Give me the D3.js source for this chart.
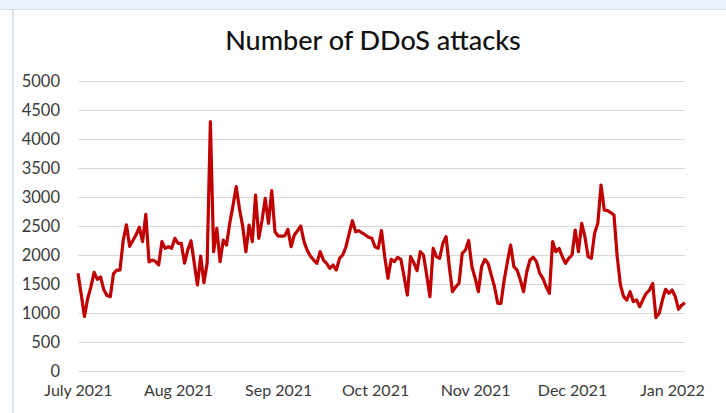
<!DOCTYPE html>
<html>
<head>
<meta charset="utf-8">
<script src="https://cdn.jsdelivr.net/npm/d3@7"></script>
<style>
  body { margin: 0; background: #fff; }
  svg { display: block; font-family: Lato, "Open Sans", sans-serif; }
  .axis text { fill: #3a3a3a; font-size: 16.5px; font-family: Lato, "Open Sans", sans-serif; }
  .x.axis text { font-size: 16px; }
  .grid line { stroke: #d9d9d9; stroke-width: 1; }
</style>
</head>
<body>
<div id="chart"></div>
<script>
// daily values, starting 1 July 2021
var startDate = "2021-07-01";
var attacks = [
  1684, 1320, 940, 1250, 1450, 1700, 1580, 1620, 1400, 1300,
  1280, 1680, 1740, 1740, 2250, 2520, 2150, 2250, 2350, 2480,
  2230, 2700, 1880, 1913, 1890, 1830, 2230, 2115, 2143, 2115,
  2288, 2200, 2200, 1860, 2086, 2246, 1860, 1483, 1983, 1522,
  1860, 4298, 2057, 2460, 1885, 2258, 2172, 2546, 2850, 3178,
  2800, 2500, 2057, 2517, 2230, 3034, 2288, 2600, 2977, 2546,
  3109, 2402, 2327, 2327, 2330, 2442, 2143, 2345, 2420, 2500,
  2230, 2080, 1980, 1913, 1857, 2057, 1913, 1857, 1770, 1827,
  1741, 1943, 2000, 2143, 2374, 2591, 2402, 2419, 2380, 2345,
  2305, 2288, 2143, 2115, 2419, 1971, 1598, 1925, 1885, 1960,
  1925, 1626, 1310, 1971, 1867, 1729, 2057, 2000, 1655, 1281,
  2115, 1971, 1943, 2200, 2316, 1798, 1367, 1450, 1512, 2028,
  2086, 2250, 1798, 1600, 1367, 1798, 1925, 1857, 1655, 1453,
  1167, 1167, 1569, 1885, 2172, 1798, 1741, 1569, 1367, 1712,
  1913, 1960, 1885, 1684, 1598, 1453, 1340, 2230, 2057, 2115,
  1971, 1857, 1943, 2000, 2431, 2057, 2546, 2316, 1971, 1943,
  2374, 2546, 3207, 2776, 2764, 2730, 2690, 1971, 1483, 1281,
  1224, 1367, 1195, 1224, 1109, 1236, 1340, 1396, 1511, 920,
  994, 1224, 1408, 1340, 1396, 1281, 1064, 1138, 1178
];

var monthStarts = ["2021-07-01", "2021-08-01", "2021-09-01", "2021-10-01", "2021-11-01", "2021-12-01", "2022-01-01"];
var monthLabels = ["July 2021", "Aug 2021", "Sep 2021", "Oct 2021", "Nov 2021", "Dec 2021", "Jan 2022"];
var yTicks = [0, 500, 1000, 1500, 2000, 2500, 3000, 3500, 4000, 4500, 5000];

var parseDate = d3.timeParse("%Y-%m-%d");
var start = parseDate(startDate);
var data = attacks.map(function(v, i){
  return {date: d3.timeDay.offset(start, i), value: v};
});

var width = 726, height = 413;
var plot = {left: 78, right: 685, top: 81, bottom: 371};

var svg = d3.select("#chart")
  .append("svg")
  .attr("width", width)
  .attr("height", height);

// screenshot frame
svg.append("rect")
  .attr("x", 0).attr("y", 0)
  .attr("width", width).attr("height", 9)
  .attr("fill", "#e9f1fb");
svg.append("line")
  .attr("x1", 0).attr("x2", width)
  .attr("y1", 9.5).attr("y2", 9.5)
  .attr("stroke", "#d3deeb");
svg.append("line")
  .attr("x1", 13).attr("x2", 13)
  .attr("y1", 10).attr("y2", height)
  .attr("stroke", "#d9e5f5")
  .attr("stroke-width", 2);

var x = d3.scaleTime()
  .domain(d3.extent(data, function(d){ return d.date; }))
  .range([plot.left, plot.right]);

var y = d3.scaleLinear()
  .domain([0, 5000])
  .range([plot.bottom, plot.top]);

// y axis with gridlines
var yAxis = svg.append("g")
  .attr("class", "axis grid")
  .attr("transform", "translate(" + plot.left + ",0)")
  .call(d3.axisLeft(y)
    .tickValues(yTicks)
    .tickSize(-(plot.right - plot.left))
    .tickPadding(18)
    .tickFormat(d3.format("d")));
yAxis.select(".domain").remove();
yAxis.selectAll("text").attr("dy", "0.35em");

// x axis labels
var xAxis = svg.append("g")
  .attr("class", "x axis")
  .attr("transform", "translate(0," + plot.bottom + ")")
  .call(d3.axisBottom(x)
    .tickValues(monthStarts.map(parseDate))
    .tickSize(0)
    .tickPadding(14)
    .tickFormat(function(d, i){ return monthLabels[i]; }));
xAxis.select(".domain").remove();

// line
var line = d3.line()
  .x(function(d){ return x(d.date); })
  .y(function(d){ return y(d.value); });

svg.append("path")
  .datum(data)
  .attr("fill", "none")
  .attr("stroke", "#c00000")
  .attr("stroke-width", 3.2)
  .attr("stroke-linejoin", "round")
  .attr("d", line);

// title
svg.append("text")
  .attr("x", 373)
  .attr("y", 50)
  .attr("text-anchor", "middle")
  .attr("fill", "#111")
  .style("font-size", "27px")
  .style("font-weight", 500)
  .text("Number of DDoS attacks");
</script>
</body>
</html>
